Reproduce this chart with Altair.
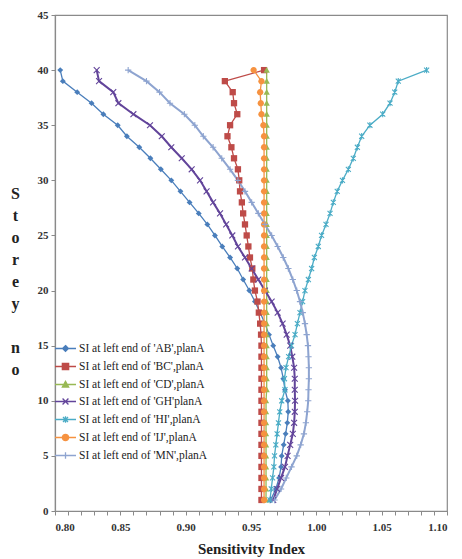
import altair as alt
import pandas as pd

# Storey numbers (1..40) shared by every series
storeys = list(range(1, 41))

series_names = [
    "SI at left end of 'AB',planA",
    "SI at left end of 'BC',planA",
    "SI at left end of 'CD',planA",
    "SI at left end of 'GH'planA",
    "SI at left end of 'HI',planA",
    "SI at left end of 'IJ',planA",
    "SI at left end of 'MN',planA",
]

# Sensitivity index per storey (storey 1 first)
si_ab = [0.965, 0.969, 0.9715, 0.973, 0.9735, 0.975, 0.9765, 0.9778, 0.9785, 0.9782,
         0.976, 0.9747, 0.973, 0.9704, 0.967, 0.9638, 0.9607, 0.957, 0.953, 0.9487,
         0.944, 0.9395, 0.934, 0.928, 0.9224, 0.9166, 0.910, 0.903, 0.896, 0.889,
         0.881, 0.873, 0.8645, 0.855, 0.848, 0.837, 0.828, 0.817, 0.806, 0.804]
si_bc = [0.958, 0.958, 0.958, 0.958, 0.958, 0.958, 0.958, 0.958, 0.958, 0.958,
         0.958, 0.958, 0.958, 0.958, 0.958, 0.9577, 0.957, 0.956, 0.955, 0.953,
         0.9518, 0.951, 0.9492, 0.948, 0.9467, 0.9454, 0.944, 0.943, 0.9416, 0.941,
         0.940, 0.937, 0.935, 0.932, 0.934, 0.9395, 0.937, 0.936, 0.930, 0.960]
si_cd = [0.9615, 0.9615, 0.9615, 0.9615, 0.9615, 0.9615, 0.9615, 0.9615, 0.9615, 0.9615,
         0.962, 0.962, 0.962, 0.962, 0.962, 0.962, 0.962, 0.962, 0.962, 0.962,
         0.962, 0.962, 0.962, 0.962, 0.962, 0.962, 0.962, 0.962, 0.962, 0.962,
         0.962, 0.962, 0.962, 0.962, 0.962, 0.962, 0.962, 0.962, 0.962, 0.962]
si_gh = [0.967, 0.970, 0.973, 0.976, 0.978, 0.980, 0.982, 0.983, 0.9835, 0.9837,
         0.9835, 0.9835, 0.983, 0.9816, 0.980, 0.9773, 0.9742, 0.9704, 0.9658, 0.9607,
         0.9556, 0.9505, 0.9454, 0.940, 0.9357, 0.931, 0.9263, 0.921, 0.916, 0.911,
         0.9046, 0.897, 0.889, 0.8817, 0.8727, 0.860, 0.8485, 0.8446, 0.8337, 0.8319]
si_hi = [0.9645, 0.9655, 0.9665, 0.9675, 0.968, 0.969, 0.970, 0.971, 0.972, 0.9735,
         0.976, 0.9756, 0.9768, 0.9788, 0.981, 0.9837, 0.9855, 0.9875, 0.9895, 0.9913,
         0.9939, 0.9964, 0.9985, 1.0015, 1.004, 1.0074, 1.0105, 1.013, 1.016, 1.020,
         1.0245, 1.0283, 1.0314, 1.0347, 1.041, 1.0508, 1.0564, 1.060, 1.0627, 1.0844]
si_ij = [0.960, 0.960, 0.960, 0.960, 0.960, 0.960, 0.960, 0.960, 0.960, 0.960,
         0.960, 0.960, 0.960, 0.960, 0.960, 0.960, 0.960, 0.960, 0.960, 0.960,
         0.960, 0.960, 0.960, 0.960, 0.960, 0.960, 0.960, 0.960, 0.960, 0.960,
         0.960, 0.960, 0.960, 0.960, 0.9595, 0.958, 0.9575, 0.957, 0.958, 0.952]
si_mn = [0.968, 0.973, 0.977, 0.981, 0.985, 0.988, 0.9905, 0.992, 0.993, 0.9938,
         0.994, 0.9943, 0.9943, 0.994, 0.9936, 0.9926, 0.9913, 0.9896, 0.9875, 0.985,
         0.982, 0.9786, 0.9747, 0.9704, 0.9658, 0.9607, 0.9556, 0.9505, 0.9454, 0.940,
         0.934, 0.9276, 0.921, 0.9135, 0.907, 0.899, 0.888, 0.880, 0.870, 0.856]

series_values = [si_ab, si_bc, si_cd, si_gh, si_hi, si_ij, si_mn]

colors = ["#4A7EBB", "#BE4B48", "#98B954", "#62449A", "#4BACC6", "#F69240", "#8EA4D0"]
line_widths = [1.3, 1.3, 1.3, 2.0, 1.3, 1.3, 2.0]

# Marker outlines in the [-1, 1] symbol box
markers = [
    "M0,-0.28L0.28,0L0,0.28L-0.28,0Z",                       # diamond
    "M-0.3,-0.3H0.3V0.3H-0.3Z",                              # square
    "M0,-0.3L0.3,0.24H-0.3Z",                                 # triangle
    "M-0.28,-0.28L0.28,0.28M-0.28,0.28L0.28,-0.28",           # x
    "M-0.24,-0.24L0.24,0.24M-0.24,0.24L0.24,-0.24M0,-0.3V0.3",  # star
    "M0.3,0A0.3,0.3 0 1 1 -0.3,0A0.3,0.3 0 1 1 0.3,0Z",       # circle
    "M-0.3,0H0.3M0,-0.3V0.3",                                 # plus
]
filled_marker = [True, True, True, False, False, True, False]
# Legend keys: a short line segment with the marker on it
legend_keys = ["M-1,0H1" + m for m in markers]

rows = []
for name, vals in zip(series_names, series_values):
    for s, v in zip(storeys, vals):
        rows.append({"series": name, "storey": s, "si": v})
df = pd.DataFrame(rows)

FONT = "Liberation Serif"
AXIS_GRAY = "#8a8a8a"

x_ticks = [round(0.80 + 0.01 * i, 2) for i in range(31)]

x_enc = alt.X(
    "si:Q",
    scale=alt.Scale(domain=[0.80, 1.10], nice=False, zero=False),
    axis=alt.Axis(
        title="Sensitivity Index",
        values=x_ticks,
        labelExpr="(round(datum.value * 100) % 5 == 0) ? format(datum.value, '.2f') : ''",
        labelOverlap=False,
        grid=False,
        tickSize=4,
        tickColor=AXIS_GRAY,
        domainColor=AXIS_GRAY,
        domainWidth=1.2,
        labelFont=FONT,
        labelFontSize=11,
        labelFontWeight="bold",
        labelColor="#333333",
        labelPadding=6,
        titleFont=FONT,
        titleFontSize=15,
        titleFontWeight="bold",
        titleColor="#222222",
        titleBaseline="middle",
        titleY=37,
    ),
)
# Vertical "Storey no" title, one letter per line with a blank line between the words
y_enc = alt.Y(
    "storey:Q",
    scale=alt.Scale(domain=[0, 45], nice=False),
    axis=alt.Axis(
        title=["S", "t", "o", "r", "e", "y", "\u2800", "n", "o"],
        values=list(range(0, 46, 5)),
        grid=False,
        tickSize=4,
        tickColor=AXIS_GRAY,
        domainColor=AXIS_GRAY,
        domainWidth=1.2,
        labelFont=FONT,
        labelFontSize=11,
        labelFontWeight="bold",
        labelColor="#333333",
        labelPadding=3,
        titleFont=FONT,
        titleFontSize=16,
        titleFontWeight="bold",
        titleColor="#222222",
        titleAngle=0,
        titleAlign="center",
        titleBaseline="middle",
        titleLineHeight=22,
        titleX=-40,
        titleY=178,
    ),
)

color_scale = alt.Scale(domain=series_names, range=colors)

legend = alt.Legend(
    title=None,
    orient="none",
    legendX=-1,
    legendY=322,
    padding=0,
    symbolSize=441,
    symbolStrokeWidth=1.3,
    symbolOpacity=1,
    labelFont=FONT,
    labelFontSize=11.5,
    labelColor="#222222",
    labelOffset=2,
    labelLimit=0,
    rowPadding=0,
)

base = alt.Chart(df)

legend_layer = (
    base.transform_filter("datum.storey < 0")
    .mark_point(filled=True, opacity=1, size=441)
    .encode(
        x=x_enc,
        y=y_enc,
        color=alt.Color("series:N", scale=color_scale, legend=legend),
        stroke=alt.Stroke("series:N", scale=alt.Scale(domain=series_names, range=colors), legend=legend),
        shape=alt.Shape("series:N", scale=alt.Scale(domain=series_names, range=legend_keys), legend=legend),
    )
)

layers = [legend_layer]
for name, width in zip(series_names, line_widths):
    layers.append(
        base.transform_filter(alt.datum.series == name)
        .mark_line(strokeWidth=width)
        .encode(x=x_enc, y=y_enc, color=alt.Color("series:N", scale=color_scale), order="storey:Q")
    )
for name, path, filled in zip(series_names, markers, filled_marker):
    layers.append(
        base.transform_filter(alt.datum.series == name)
        .mark_point(shape=path, filled=filled, size=441, opacity=1, strokeWidth=1.1)
        .encode(x=x_enc, y=y_enc, color=alt.Color("series:N", scale=color_scale))
    )

chart = (
    alt.layer(*layers)
    .properties(
        width=392,
        height=496,
        autosize=alt.AutoSizeParams(type="none"),
        padding={"left": 55, "top": 15, "right": 15, "bottom": 48},
        background="white",
    )
    .configure_view(stroke=AXIS_GRAY, strokeWidth=1.2)
    .configure_axisY(titleLineHeight=22)
)

chart.save("out.html", embed_options={"renderer": "svg", "actions": False})
